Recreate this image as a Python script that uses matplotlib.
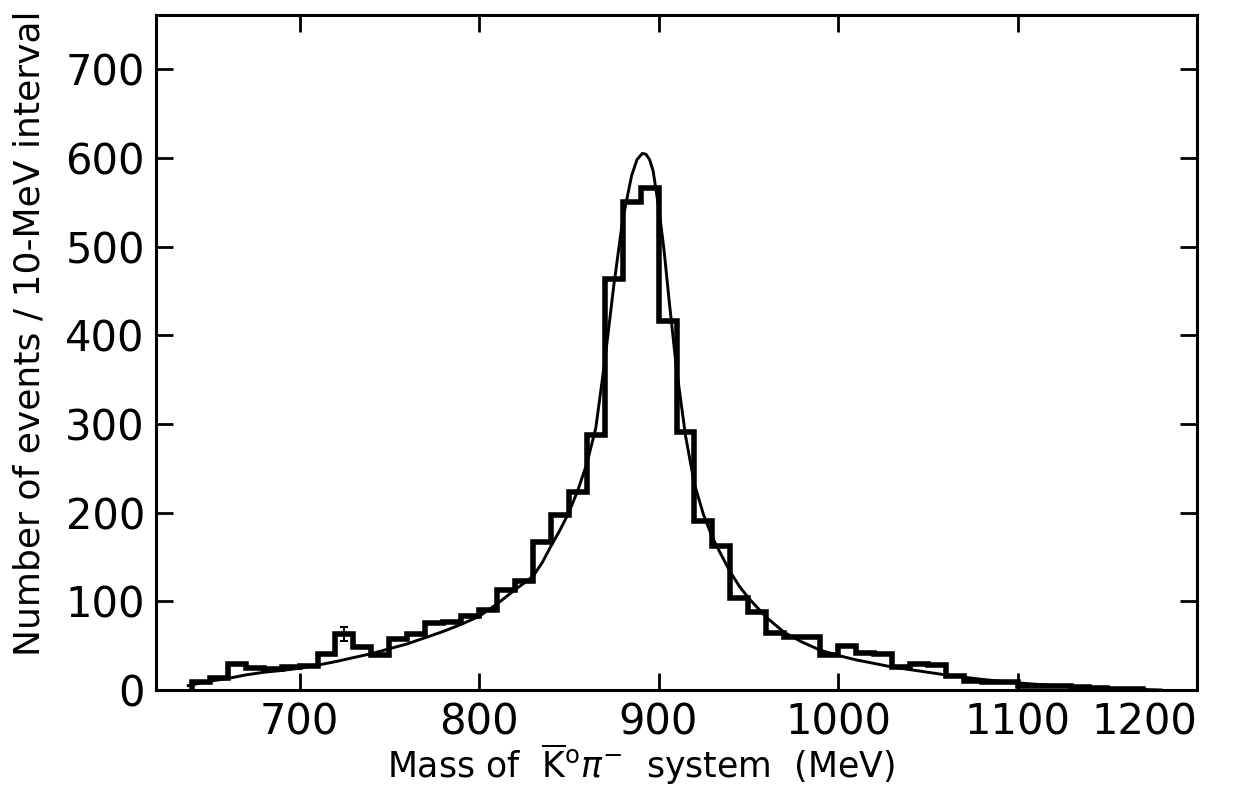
import numpy as np
import matplotlib.pyplot as plt

# histogram: 10 MeV bins from 640 to 1170 MeV
bin_edges = np.arange(640, 1171, 10)
counts = [9, 13, 29, 25, 24, 26, 27, 41, 63, 49,
          40, 57, 63, 76, 77, 83, 90, 113, 123, 167,
          197, 223, 288, 463, 550, 566, 416, 291, 190, 162,
          104, 88, 64, 60, 60, 40, 50, 42, 41, 26,
          29, 28, 16, 10, 9, 9, 4, 5, 4, 3,
          2, 1, 1]

# the one error bar drawn on the plot
err_mass = [725]
err_count = [63]
err_size = [7.5]

# fitted curve
fit_mass = [638, 650, 660, 670, 680, 690, 700, 710, 720, 730,
            740, 750, 760, 770, 780, 790, 800, 810, 820, 830,
            835, 840, 845, 850, 855, 860, 865, 870, 875, 880,
            885, 888, 891, 893, 895, 897, 900, 903, 906, 910, 915,
            920, 925, 930, 935, 940, 945, 950, 960, 970, 980,
            990, 1000, 1010, 1020, 1030, 1040, 1050, 1060, 1070, 1080,
            1090, 1100, 1110, 1120, 1130, 1140, 1150, 1160, 1170, 1180]
fit_count = [5, 10, 13, 17, 20, 22, 24.5, 28, 32, 36.5,
             41, 46.5, 52, 59, 66, 74, 83, 97, 113, 128,
             143, 162, 180, 200, 225, 255, 295, 370, 455, 530,
             580, 598, 605, 604, 598, 585, 545, 497, 437, 362, 287,
             232, 198, 172, 152, 133, 117, 104, 82, 65, 54,
             45, 39, 34, 30, 26, 23, 20, 17, 14.5, 12,
             10, 8, 6.5, 5, 4, 3, 2, 1.2, 0.6, 0]

x_ticks = [700, 800, 900, 1000, 1100, 1200]
y_ticks = [0, 100, 200, 300, 400, 500, 600, 700]

fig = plt.figure(figsize=(12.53, 7.88), dpi=100)
ax = fig.add_axes([156 / 1253, 98 / 788, 1041 / 1253, 675 / 788])

ax.stairs(counts, bin_edges, baseline=0, color='black', linewidth=4)
ax.plot(fit_mass, fit_count, color='black', linewidth=2.1)
ax.errorbar(err_mass, err_count, yerr=err_size, fmt='none', ecolor='black',
            elinewidth=1.5, capsize=3, capthick=1.5)

ax.set_xlim(620, 1200)
ax.set_ylim(0, 761)
ax.set_xticks(x_ticks)
ax.set_yticks(y_ticks)
ax.tick_params(direction='in', length=12, width=2, top=True, right=True,
               labelsize=30, pad=8)
for s in ax.spines.values():
    s.set_linewidth(2.2)

# the last label sits inside the frame edge in the original
ax.get_xticklabels()[-1].set_ha('right')

fig.text(641 / 1253, 1 - 778 / 788,
         r"Mass of  $\overline{\mathrm{K}}^{\mathrm{o}}\pi^{-}$  system  (MeV)",
         fontsize=25, ha='center', va='baseline')
fig.text(30 / 1253, 1 - 333 / 788, "Number of events / 10-MeV interval",
         fontsize=26, rotation=90, ha='center', va='center')

fig.savefig('out.png', dpi=100)
